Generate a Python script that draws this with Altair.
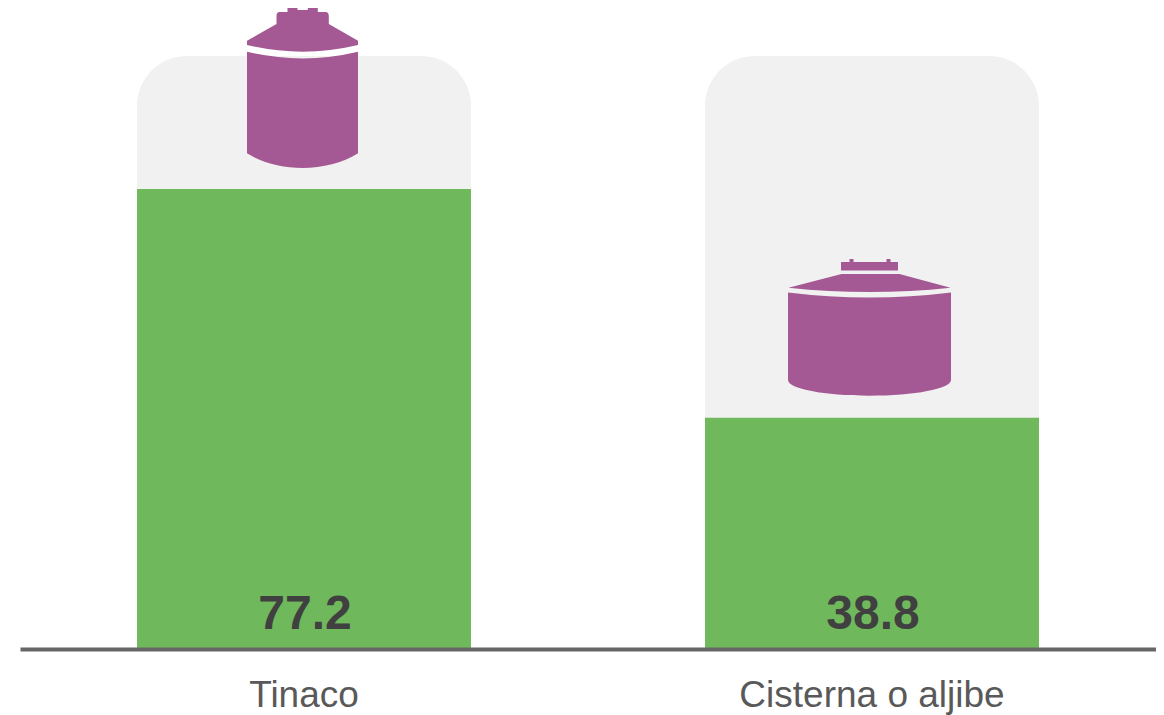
import re
import altair as alt
import pandas as pd

categories = ["Tinaco", "Cisterna o aljibe"]
values = [77.2, 38.8]
background = [99.5, 99.5]
icon_levels = [80.7, 42.5]
value_labels = ["77.2", "38.8"]

GREEN = "#70B85C"
GREY_BG = "#F1F1F1"
PURPLE = "#A55994"
AXIS = "#666666"
LABEL = "#595959"
VALUE = "#404040"
Y_MAX = 107.55


def icon(path):
    # pictogram outline in pixels around its base; a custom symbol of size 40000 scales by 100
    return re.sub(r"-?\d+\.?\d*", lambda m: f"{float(m.group()) / 100:.4f}", path)


tall_tank = icon(
    "M-55.5,-116.3 Q0,-103 55.5,-116.3 L55.5,-14.7 C40,-5 20,0 0,0 C-20,0 -40,-5 -55.5,-14.7 Z "
    "M-55.5,-123 Q0,-109.7 55.5,-123 L55.5,-127.3 L26.3,-144 L26.3,-152 Q26.3,-156 23,-156 "
    "L15.3,-156 L15.3,-160 L5.3,-160 L5.3,-158 L-5,-158 L-5,-160 L-15,-160 L-15,-156 L-23,-156 "
    "Q-26,-156 -26,-152 L-26,-144 L-55.5,-127.3 Z"
)
wide_tank = icon(
    "M-81.5,-103.3 Q0,-93.3 81.5,-103.3 L81.5,-15.7 C81.5,-7 45,0 0,0 C-45,0 -81.5,-7 -81.5,-15.7 Z "
    "M-81,-108 Q0,-99.4 81,-108 L30,-121.7 L-28,-121.7 Z "
    "M-28.5,-125.3 L28.5,-125.3 L28.5,-133.7 L21,-133.7 L21,-136.7 L17,-136.7 L17,-133.7 "
    "L-16,-133.7 L-16,-136.7 L-20,-136.7 L-20,-133.7 L-28.5,-133.7 Z"
)

df = pd.DataFrame(
    {
        "categoria": categories,
        "valor": values,
        "fondo": background,
        "nivel": icon_levels,
        "etiqueta": value_labels,
        "base": [0, 0],
    }
)

x = alt.X(
    "categoria:N",
    sort=categories,
    scale=alt.Scale(paddingInner=0, paddingOuter=0),
    axis=alt.Axis(
        title=None,
        labelAngle=0,
        labelFont="Liberation Sans",
        labelFontSize=37,
        labelColor=LABEL,
        labelPadding=57,
        labelBaseline="alphabetic",
        labelLimit=1000,
        ticks=False,
        domainColor=AXIS,
        domainWidth=4,
        grid=False,
        zindex=1,
    ),
)
y_scale = alt.Scale(domain=[0, Y_MAX], nice=False, zero=True)


def y(field):
    return alt.Y(field, scale=y_scale, axis=None)


bg = alt.Chart(df).mark_bar(
    size=334, color=GREY_BG, cornerRadiusTopLeft=50, cornerRadiusTopRight=50
).encode(x=x, y=y("fondo:Q"))

bars = alt.Chart(df).mark_bar(size=334, color=GREEN).encode(x=x, y=y("valor:Q"))

text = alt.Chart(df).mark_text(
    font="Liberation Sans",
    fontSize=48,
    fontWeight="bold",
    color=VALUE,
    baseline="alphabetic",
    align="center",
    dy=-20,
    dx=1,
).encode(x=x, y=y("base:Q"), text="etiqueta:N")


def tank(cat, path, dx):
    return (
        alt.Chart(df[df["categoria"] == cat])
        .mark_point(
            shape=path, size=40000, filled=True, color=PURPLE, opacity=1, strokeWidth=0, xOffset=dx
        )
        .encode(x=x, y=y("nivel:Q"))
    )


chart = (
    alt.layer(bg, bars, text, tank(categories[0], tall_tank, -1.5), tank(categories[1], wide_tank, -2.5))
    .properties(
        width=1136,
        height=641,
        padding={"left": 12, "top": 0, "right": 0, "bottom": 66},
        autosize=alt.AutoSizeParams(type="none"),
        background="white",
    )
    .configure_view(stroke=None)
)

chart.save("out.html", embed_options={"renderer": "svg", "actions": False})
